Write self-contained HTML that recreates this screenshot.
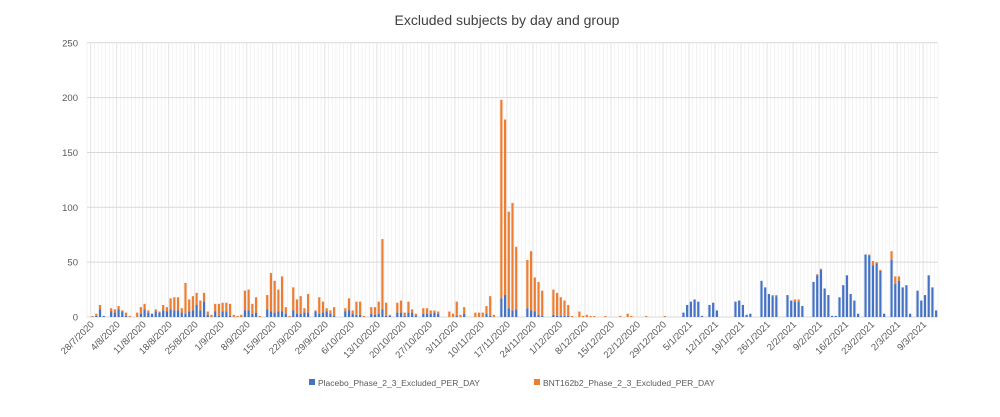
<!DOCTYPE html>
<html><head><meta charset="utf-8">
<style>
html,body{margin:0;padding:0;background:#fff;}
svg{display:block;font-family:"Liberation Sans",sans-serif;}
</style></head>
<body>
<svg id="c" width="1000" height="417" xmlns="http://www.w3.org/2000/svg">
<rect width="1000" height="417" fill="#fff"/>
<text x="507" y="25" text-anchor="middle" font-size="14" fill="#404040">Excluded subjects by day and group</text>
<g id="grid"></g>
<g id="bars"></g>
<g id="labels" font-size="9.5" fill="#595959"></g>
<rect x="309" y="379" width="6" height="6" fill="#4472C4"/>
<text x="318" y="386" font-size="8.5" fill="#595959">Placebo_Phase_2_3_Excluded_PER_DAY</text>
<rect x="534" y="379" width="6" height="6" fill="#ED7D31"/>
<text x="543" y="386" font-size="8.5" fill="#595959">BNT162b2_Phase_2_3_Excluded_PER_DAY</text>
</svg>
<script>
var NS="http://www.w3.org/2000/svg";
function el(p,t,a){var e=document.createElementNS(NS,t);for(var k in a)e.setAttribute(k,a[k]);p.appendChild(e);return e;}
var X0=87,X1=938,N=229,dw=(X1-X0)/N,Y0=317,sc=1.097;
var grid=document.getElementById('grid'),bars=document.getElementById('bars'),lab=document.getElementById('labels');
for(var i=0;i<=N;i++){var x=X0+i*dw;el(grid,'line',{x1:x,x2:x,y1:43,y2:Y0,stroke:(i%7==1)?'#dcdcdc':'#f0f0f0','stroke-width':0.8});}
for(var v=0;v<=250;v+=50){var y=Y0-v*sc;el(grid,'line',{x1:X0,x2:X1,y1:y,y2:y,stroke:'#d9d9d9','stroke-width':1});
 var t=el(lab,'text',{x:78,y:y+3.5,'text-anchor':'end'});t.textContent=v;}
var d=[[1,1,0],[2,3,1],[3,11,7],[4,1,1],[6,8,5],[7,7,4],[8,10,7],[9,6,5],[10,4,1],[11,1,0],[13,4,0],[14,9,3],[15,12,7],[16,6,4],[17,3,3],[18,7,5],[19,5,4],[20,11,6],[21,9,5],[22,17,7],[23,18,6],[24,18,6],[25,8,4],[26,31,3],[27,16,5],[28,19,6],[29,22,11],[30,15,6],[31,22,14],[32,5,2],[33,2,0],[34,12,5],[35,12,1],[36,13,5],[37,13,5],[38,12,1],[39,2,0],[40,1,0],[41,2,0],[42,24,6],[43,25,6],[44,12,3],[45,18,4],[46,1,0],[48,20,7],[49,40,5],[50,33,4],[51,25,5],[52,37,5],[53,9,3],[54,1,0],[55,27,6],[56,16,3],[57,19,3],[58,8,4],[59,21,4],[61,6,5],[62,18,3],[63,14,4],[64,8,5],[65,6,3],[66,9,1],[69,8,5],[70,17,6],[71,6,3],[72,14,2],[73,14,2],[74,1,0],[76,9,3],[77,9,2],[78,14,3],[79,71,7],[80,13,1],[81,2,1],[83,13,4],[84,15,4],[85,4,1],[86,14,4],[87,7,4],[88,3,1],[90,8,3],[91,8,3],[92,6,3],[93,6,4],[94,5,3],[97,5,0],[98,3,0],[99,14,1],[100,2,0],[101,9,3],[104,4,0],[105,4,0],[106,4,0],[107,10,3],[108,19,1],[109,2,0],[111,198,17],[112,180,20],[113,96,8],[114,104,6],[115,64,7],[118,52,8],[119,60,6],[120,36,5],[121,32,2],[122,24,1],[125,25,2],[126,22,1],[127,18,1],[128,15,1],[129,11,1],[130,1,0],[132,5,0],[133,1,0],[134,2,0],[135,1,0],[136,1,0],[139,1,0],[143,1,0],[145,3,0],[146,1,0],[150,1,0],[155,1,0],
[160,4,4],[161,11,11],[162,14,14],[163,16,16],[164,14,14],[165,1,1],[167,11,11],[168,13,13],[169,6,6],[174,14,14],[175,15,15],[176,11,11],[177,2,2],[178,3,3],[181,33,33],[182,27,27],[183,21,21],[184,20,19],[185,20,19],[188,20,20],[189,15,15],[190,16,14],[191,16,14],[192,10,10],[195,32,32],[196,39,38],[197,44,43],[198,26,26],[199,20,20],[200,1,1],[201,1,1],[202,18,18],[203,29,29],[204,38,38],[205,21,21],[206,15,15],[207,3,3],[209,57,57],[210,57,56],[211,51,47],[212,50,49],[213,43,42],[214,3,3],[216,60,52],[217,37,30],[218,37,33],[219,27,27],[220,29,29],[221,3,3],[223,24,24],[224,15,15],[225,20,20],[226,38,38],[227,27,27],[228,6,6]];
d.forEach(function(r){var cx=X0+(r[0]+0.5)*dw,w=2.2;
 var bh=r[2]*sc,th=r[1]*sc;
 if(th>bh)el(bars,'rect',{x:cx-w/2,y:Y0-th,width:w,height:th-bh,fill:'#ED7D31'});
 if(bh>0)el(bars,'rect',{x:cx-w/2,y:Y0-bh,width:w,height:bh,fill:'#4472C4'});
});
el(grid,'line',{x1:X0,x2:X1,y1:Y0,y2:Y0,stroke:'#d9d9d9','stroke-width':1});
var start=new Date(2020,6,27);
for(var i=1;i<N;i+=7){var dt=new Date(start.getTime()+i*86400000+3600000*12);
 var s=dt.getDate()+'/'+(dt.getMonth()+1)+'/'+dt.getFullYear();
 var x=X0+(i+0.5)*dw+2,y=325;
 var t=el(lab,'text',{x:x,y:y,'text-anchor':'end',transform:'rotate(-45 '+x+' '+y+')'});t.textContent=s;}
</script>
</body></html>
